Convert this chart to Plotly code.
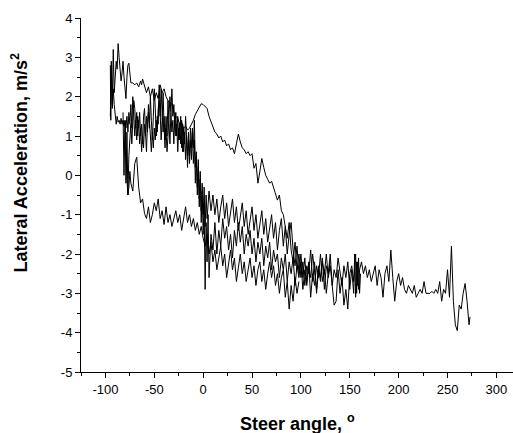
import plotly.graph_objects as go

# Trace 1: upper envelope run that continues to the far right tail
t1_x = [-95, -94.5, -94, -93, -92, -91, -90, -89, -88, -87, -86, -85, -84, -83, -82, -81, -80, -79, -78, -77, -76, -75, -74, -72, -70, -68, -66, -64, -63, -62, -60, -58, -56, -54, -52, -50, -48, -46, -44, -42, -40, -38, -36, -34, -32, -30, -28, -26, -24, -22, -20, -18, -16, -14, -12, -10, -8, -6, -4, -2, 0, 2, 4, 6, 8, 10, 12, 14, 16, 18, 20, 22, 24, 26, 28, 30, 32, 34, 36, 38, 40, 42, 44, 46, 48, 50, 52, 54, 56, 58, 60, 62, 64, 66, 68, 70, 72, 74, 76, 78, 80, 82, 84, 86, 88, 90, 92, 94, 96, 98, 100,
        102, 104, 106, 108, 110, 112, 114, 116, 118, 120, 122, 124, 126, 128, 130, 132, 134, 136, 138, 140, 142, 144, 146, 148, 150, 152, 154, 156, 157, 158, 159, 160, 162, 164, 166, 168, 170, 172, 174, 176, 178, 180, 182, 184, 186, 188, 190, 192, 194, 196, 198, 200, 202, 204, 206, 208, 210, 212, 214, 216, 218, 220, 222, 224, 226, 228, 230, 232, 234, 236, 238, 240, 242, 244, 246, 248, 250, 252, 254, 256, 258, 260, 262, 264, 266, 268, 270, 272, 273]
t1_y = [2.8, 1.4, 2.9, 1.8, 3.2, 2.1, 2.5, 2.9, 2.7, 3.35, 3.0, 2.6, 2.4, 2.6, 2.9, 2.5, 2.2, 1.95, 2.5, 2.8, 2.85, 2.5, 2.35, 2.35, 2.3, 2.35, 2.25, 2.4, 2.3, 2.45, 2.3, 2.1, 2.25, 2.0, 2.2, 1.9, 2.1, 1.95, 2.3, 2.1, 2.2, 2.0, 1.9, 1.85, 1.8, 1.6, 1.5, 1.45, 1.3, 1.35, 1.2, 1.25, 1.15, 1.2, 1.3, 1.4, 1.55, 1.65, 1.75, 1.82, 1.8, 1.75, 1.7, 1.5, 1.35, 1.2, 1.1, 1.05, 0.95, 1.0, 0.85, 0.9, 0.75, 0.8, 0.65, 0.7, 0.55, 0.8, 1.05, 0.85, 0.7, 0.65, 0.55, 0.6, 0.5, 0.55, 0.18, 0.3, -0.2, 0.1, 0.43, 0.2, 0.0, -0.1, -0.2, -0.15, -0.3, -0.45, -0.63, -0.5, -0.9, -1.0, -1.3, -1.6, -1.2, -1.9, -2.2, -1.7, -2.4, -2.0, -2.6,
        -2.2, -2.8, -2.3, -2.5, -1.9, -2.7, -2.2, -3.0, -2.4, -2.6, -2.1, -2.9, -2.3, -2.5, -2.0, -2.8, -3.3, -3.2, -2.4, -3.0, -2.6, -3.3, -2.9, -3.4, -2.5, -2.3, -2.7, -2.0, -3.0, -2.2, -2.9, -2.4, -2.2, -2.5, -2.3, -2.6, -2.4, -2.7, -2.5, -2.3, -2.8, -2.4, -2.6, -3.1, -2.5, -2.3, -2.7, -1.9, -2.6, -3.2, -2.7, -2.5, -2.8, -2.6, -2.9, -3.0, -2.8, -2.9, -3.0, -2.8, -3.1, -3.0, -2.9, -3.0, -2.7, -3.0, -3.0, -3.0, -2.95, -3.0, -2.9, -3.0, -2.7, -3.2, -2.9, -3.0, -2.4, -3.1, -1.8, -3.2, -3.8, -3.95, -3.3, -3.4, -3.0, -2.75, -3.2, -3.8, -3.6]

# Trace 2: dense upper-middle run
t2_x = [-95, -94, -93, -92, -91, -90, -89, -88, -87, -86, -85, -84, -83, -82, -81, -80, -79, -78, -77, -76, -75, -74, -73, -72, -71, -70, -69, -68, -67, -66, -65, -64, -63, -62, -61, -60, -59, -58, -57, -56, -55, -54, -53, -52, -51, -50, -49, -48, -47, -46, -45, -44, -43, -42, -41, -40, -39, -38, -37, -36, -35, -34, -33, -32, -31, -30, -29, -28, -27, -26, -25, -24, -23, -22, -21, -20, -19, -18, -17, -16, -15, -14, -13, -12, -11, -10, -9, -8, -7, -6, -5, -4, -3, -2, -1, 0, 1, 2, 3, 4, 5, 6, 8, 10, 12, 14, 16, 18, 20, 22, 24, 26, 28, 30, 32, 34, 36, 38, 40, 42, 44, 46, 48, 50, 52, 54, 56, 58, 60, 62, 64, 66, 68, 70, 72, 74, 76, 78, 80, 82, 84, 86, 88, 90, 92, 94, 96, 98, 100, 102, 104, 106, 108, 110, 112, 114, 116, 118, 120, 122, 124, 126, 128, 130]
t2_y = [1.5, 2.7, 1.7, 2.2, 1.8, 1.45, 1.3, 1.5, 1.35, 1.4, 1.3, 1.45, 1.3, 1.4, 1.25, 1.35, 1.2, 1.5, 1.1, 1.6, 1.3, 1.8, 1.2, 2.0, 1.5, 1.0, 1.4, 0.9, 1.5, 1.2, 1.6, 1.0, 1.3, 0.8, 1.5, 1.7, 1.1, 0.6, 1.3, 1.6, 1.2, 2.0, 1.4, 0.9, 1.5, 2.2, 1.7, 1.0, 1.5, 1.3, 2.3, 1.6, 0.9, 1.4, 2.1, 1.2, 0.7, 1.5, 1.0, 1.9, 1.3, 0.8, 1.6, 1.1, 1.4, 0.8, 1.5, 1.0, 1.3, 0.6, 1.2, 0.9, 1.5, 0.7, 1.3, 0.6, 1.1, 0.4, 1.0, 0.2, 0.9, 0.5, 1.2, 0.7, 1.1, 0.3, 0.9, -0.2, 0.5, -0.5, 0.2, -0.8, -0.1, -1.2, -0.4, -1.5, -0.7, -2.9, -1.2, -2.2, -1.0, -2.6, -1.5, -1.9, -1.2, -2.0, -1.4, -1.8, -1.1, -1.6, -1.3, -1.9, -1.5, -2.1, -1.4, -1.8, -1.2, -1.7, -1.3, -2.0, -1.5, -1.8, -1.4, -2.0, -1.6, -2.2, -1.7, -2.0, -1.6, -2.3, -1.8, -2.1, -1.7, -2.4, -1.9, -2.2, -2.0, -2.6, -2.1, -2.4, -2.0, -2.7, -2.2, -2.5, -2.1, -2.8, -2.3, -2.6, -2.2, -2.9, -2.4, -2.7, -2.2, -3.1, -2.5, -2.8, -2.3, -2.6, -2.0, -2.7, -2.4, -3.0, -2.5, -2.2]

# Trace 3: middle run
t3_x = [-82, -81, -80, -79, -78, -77, -76, -75, -74, -73, -72, -71, -70, -69, -68, -67, -66, -65, -64, -63, -62, -61, -60, -59, -58, -57, -56, -55, -54, -53, -52, -51, -50, -49, -48, -47, -46, -45, -44, -43, -42, -41, -40, -39, -38, -37, -36, -35, -34, -33, -32, -31, -30, -29, -28, -27, -26, -25, -24, -23, -22, -21, -20, -19, -18, -17, -16, -15, -14, -13, -12, -11, -10, -9, -8, -7, -6, -5, -4, -3, -2, -1, 0, 1, 2, 3, 4, 6, 8, 10, 12, 14, 16, 18, 20, 22, 24, 26, 28, 30, 32, 34, 36, 38, 40, 42, 44, 46, 48, 50, 52, 54, 56, 58, 60, 62, 64, 66, 68, 70, 72, 74, 76, 78, 80, 82, 84, 86, 88, 90, 92, 94, 96, 98, 100, 102, 104, 106, 108, 110, 112, 114, 116, 118, 120, 122, 124, 126, 128, 130, 132, 134, 136, 138, 140, 142, 144, 146, 148, 150, 152, 154, 155, 156, 157, 158, 159, 160, 161]
t3_y = [1.6, 0.0, 1.4, -0.2, 1.1, -0.5, 0.5, 0.9, 1.3, 0.8, 1.5, 1.9, 1.7, 1.2, 1.6, 1.0, 1.4, 0.8, 1.2, 0.6, 1.0, 0.7, 1.3, 1.0, 1.5, 1.1, 1.8, 1.3, 0.8, 0.6, 1.1, 0.7, 1.2, 0.9, 1.4, 1.1, 1.7, 1.9, 1.5, 2.2, 1.6, 1.1, 1.5, 0.9, 1.2, 0.6, 1.0, 1.4, 2.0, 1.6, 2.2, 1.5, 1.8, 1.2, 1.6, 1.0, 1.5, 0.9, 1.3, 0.8, 1.4, 0.6, 1.2, 0.8, 1.5, 1.0, 0.5, 1.1, 0.3, 0.9, 0.4, 1.2, 0.7, 1.4, 0.2, 0.6, -0.3, 0.4, -0.6, 0.1, -0.9, -0.2, -1.0, -0.3, -1.3, -0.5, -1.1, -0.4, -0.9, -0.5, -1.0, -0.6, -1.2, -0.8, -0.5, -1.1, -0.7, -1.3, -0.9, -0.6, -1.2, -0.8, -1.4, -1.0, -0.7, -1.3, -0.9, -1.5, -1.1, -0.8, -1.4, -1.0, -1.6, -1.2, -0.9, -1.5, -1.1, -1.7, -1.3, -1.0, -1.6, -1.2, -1.9, -1.4, -1.1, -1.8, -1.3, -2.0, -1.5, -1.2, -1.9, -2.3, -1.8, -2.5, -2.0, -2.6, -2.1, -2.8, -2.3, -2.6, -2.0, -2.4, -2.9, -2.3, -2.7, -2.2, -2.5, -2.0, -2.6, -2.3, -2.8, -2.4, -2.6, -2.1, -2.5, -2.8, -2.3, -2.6, -2.2, -2.9, -2.4, -3.0, -2.0, -3.1, -2.2, -2.8, -2.1, -3.0, -2.5]

# Trace 4: lower run
t4_x = [-80, -79, -78, -77, -76, -75, -74, -72, -70, -68, -66, -64, -62, -60, -58, -56, -54, -52, -50, -48, -46, -44, -42, -40, -38, -36, -34, -32, -30, -28, -26, -24, -22, -20, -18, -16, -14, -12, -10, -8, -6, -4, -2, 0, 2, 4, 6, 8, 10, 12, 14, 16, 18, 20, 22, 24, 26, 28, 30, 32, 34, 36, 38, 40, 42, 44, 46, 48, 50, 52, 54, 56, 58, 60, 62, 64, 66, 68, 70, 72, 74, 76, 78, 80, 82, 84, 86, 88, 90, 92, 94, 96, 98]
t4_y = [1.4, 0.2, -0.1, -0.5, -0.3, 0.1, -0.2, -0.4, 0.3, 0.46, -0.3, -0.7, -0.6, -0.97, -1.1, -0.8, -1.2, -1.0, -0.7, -0.9, -0.6, -1.1, -0.9, -1.25, -0.8, -1.2, -1.0, -1.3, -1.1, -0.9, -1.2, -1.0, -1.4, -1.1, -0.8, -1.2, -1.0, -1.3, -1.1, -1.4, -1.2, -1.5, -1.3, -1.6, -1.8, -1.5, -2.0, -1.7, -2.2, -1.9, -2.4, -2.1, -1.8, -2.3, -2.0, -2.6, -2.2, -1.9, -2.4, -2.1, -2.7, -2.3, -2.0, -2.5, -2.2, -2.7, -2.4, -2.1, -2.6, -2.3, -2.8, -2.4, -2.2, -2.7, -2.4, -2.9, -2.5, -2.2, -2.6, -2.3, -2.8, -2.5, -3.0, -2.6, -2.4, -3.1, -2.7, -3.4, -2.8, -3.2, -2.6, -3.0, -2.7]

series = [(t1_x, t1_y), (t2_x, t2_y), (t3_x, t3_y), (t4_x, t4_y)]

x_ticks = [-100, -50, 0, 50, 100, 150, 200, 250, 300]
y_ticks = [-5, -4, -3, -2, -1, 0, 1, 2, 3, 4]

fig = go.Figure()
for sx, sy in series:
    fig.add_trace(go.Scatter(x=sx, y=sy, mode="lines",
                             line=dict(color="black", width=1), showlegend=False))

font_family = "Liberation Sans, Arial, sans-serif"
fig.update_layout(
    width=513, height=433,
    margin=dict(l=81, r=0, t=18, b=61),
    paper_bgcolor="white", plot_bgcolor="white",
    font=dict(family=font_family, size=13, color="black"),
)
fig.update_xaxes(
    range=[-125, 317], tickvals=x_ticks, ticktext=[str(v) for v in x_ticks],
    showline=True, linecolor="black", linewidth=1, showgrid=False, zeroline=False,
    ticks="outside", ticklen=5, tickwidth=1, tickcolor="black",
    minor=dict(dtick=25, tick0=0, ticks="outside", ticklen=3, tickcolor="black", showgrid=False),
    tickfont=dict(size=13, family=font_family),
)
fig.update_yaxes(
    range=[-5, 4], tickvals=y_ticks, ticktext=[str(v) for v in y_ticks],
    showline=True, linecolor="black", linewidth=1, showgrid=False, zeroline=False,
    ticks="outside", ticklen=5, tickwidth=1, tickcolor="black",
    minor=dict(dtick=0.5, tick0=0, ticks="outside", ticklen=3, tickcolor="black", showgrid=False),
    tickfont=dict(size=13, family=font_family),
)
title_font = dict(size=18, family=font_family, color="black")
fig.add_annotation(text="<b>Steer angle, <sup>o</sup></b>", xref="paper", yref="paper",
                   x=0.5, y=0, xanchor="center", yanchor="middle", yshift=-50,
                   showarrow=False, font=title_font)
fig.add_annotation(text="<b>Lateral Acceleration, m/s<sup>2</sup></b>", xref="paper", yref="paper",
                   x=0, y=0.589, xanchor="center", yanchor="middle", xshift=-61,
                   textangle=-90, showarrow=False, font=title_font)
fig.write_html("out.html")
